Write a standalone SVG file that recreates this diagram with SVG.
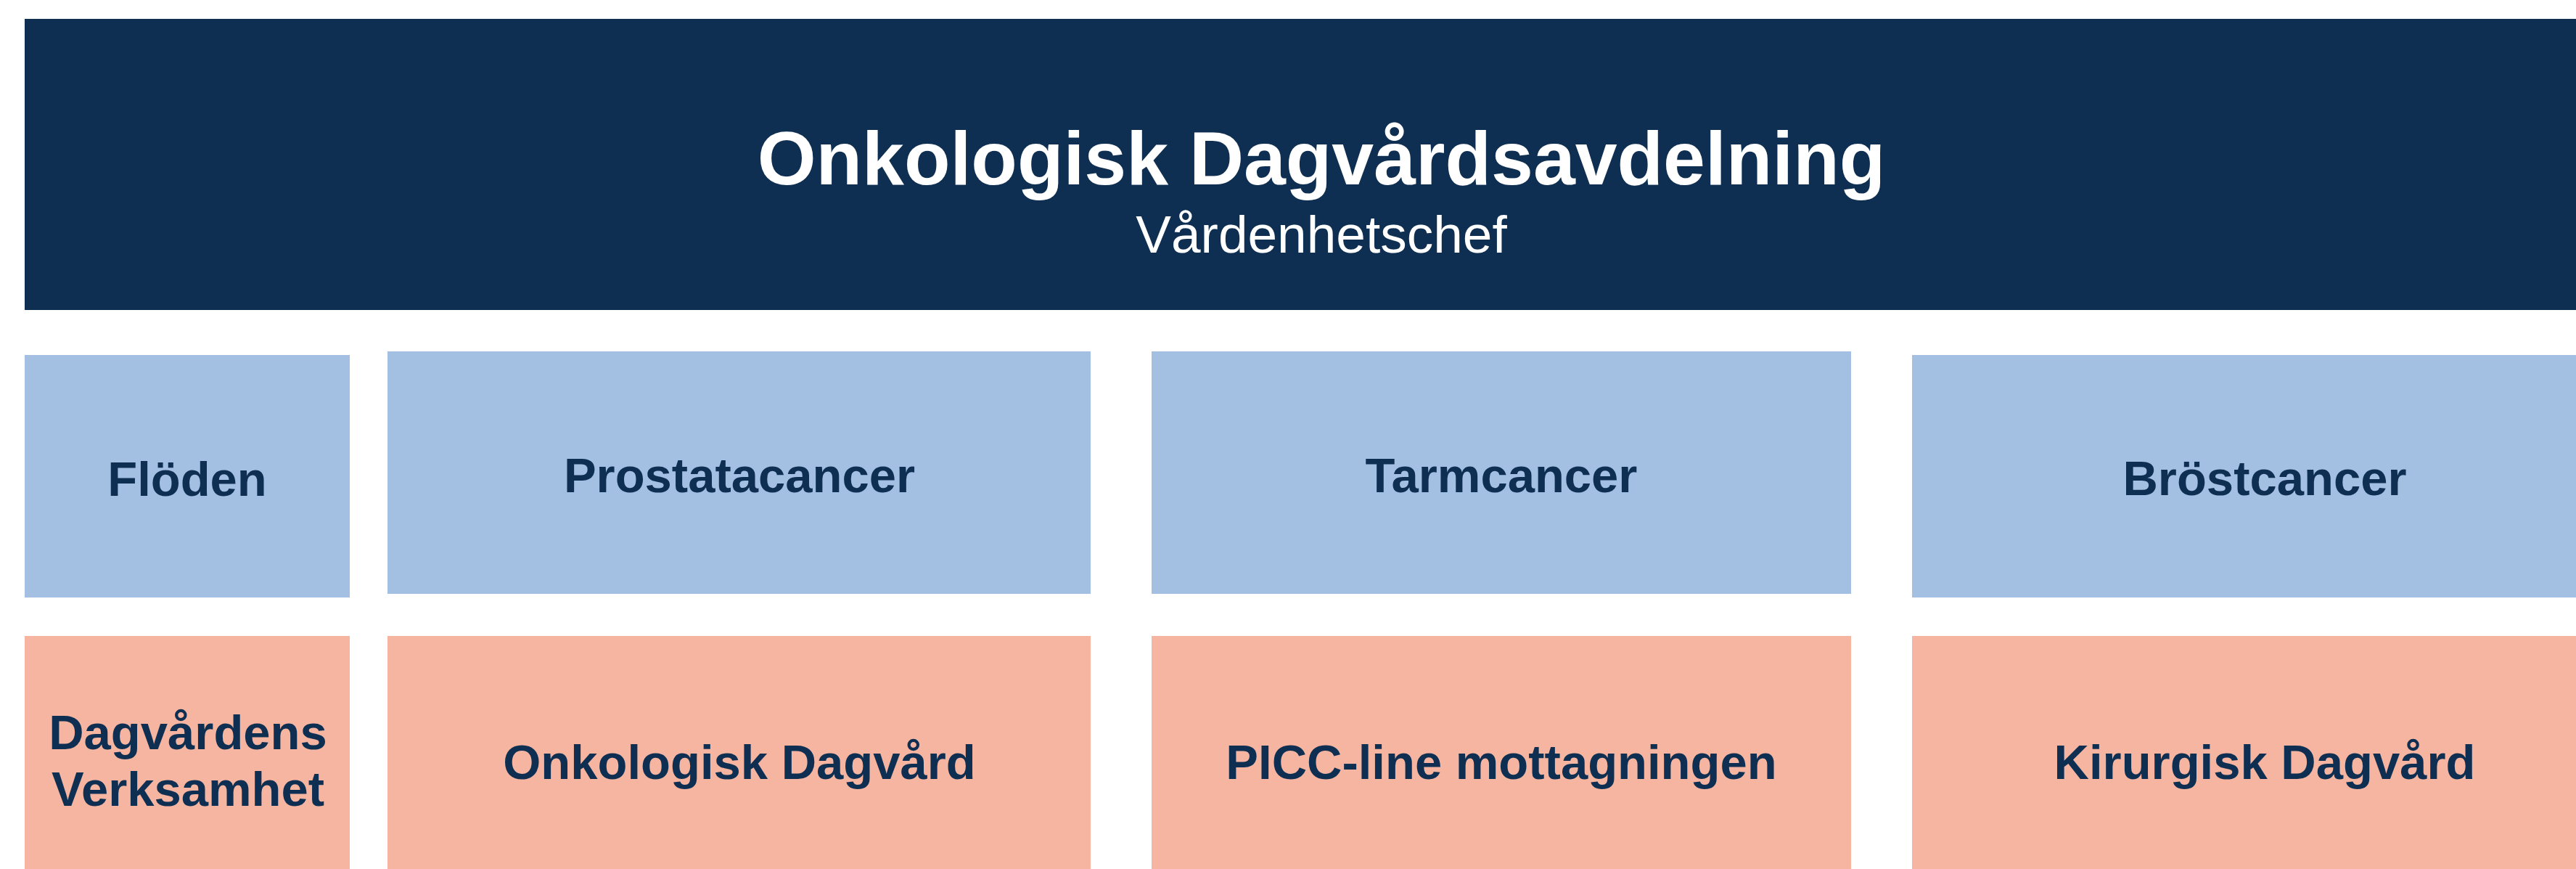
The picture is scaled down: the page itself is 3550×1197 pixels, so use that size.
<svg xmlns="http://www.w3.org/2000/svg" width="3550" height="1197" viewBox="0 0 3550 1197">
<style>
.bg{fill:#ffffff}
.head{fill:#0F2F52}
.blue{fill:#A3BFE2}
.sal{fill:#F5B5A0}
.t{font-family:"Liberation Sans",Arial,sans-serif;font-weight:bold;font-size:67px;fill:#0F2F52;text-anchor:middle}
.title{font-family:"Liberation Sans",Arial,sans-serif;font-weight:bold;font-size:104px;fill:#ffffff;text-anchor:middle}
.sub{font-family:"Liberation Sans",Arial,sans-serif;font-size:73px;fill:#ffffff;text-anchor:middle}
</style>
<rect class="bg" x="0" y="0" width="3550" height="1197"/>
<g id="header">
<rect class="head" x="34" y="26" width="3574" height="401"/>
<text class="title" x="1821" y="254">Onkologisk Dagvårdsavdelning</text>
<text class="sub" x="1821" y="348">Vårdenhetschef</text>
</g>
<g id="floden">
<rect class="blue" x="34" y="489" width="448" height="334"/>
<text class="t" x="258" y="683">Flöden</text>
</g>
<g id="prostatacancer">
<rect class="blue" x="534" y="484" width="969" height="334"/>
<text class="t" x="1019" y="678">Prostatacancer</text>
</g>
<g id="tarmcancer">
<rect class="blue" x="1587" y="484" width="964" height="334"/>
<text class="t" x="2069" y="678">Tarmcancer</text>
</g>
<g id="brostcancer">
<rect class="blue" x="2635" y="489" width="973" height="334"/>
<text class="t" x="3121" y="682">Bröstcancer</text>
</g>
<g id="dagvardens-verksamhet">
<rect class="sal" x="34" y="876" width="448" height="350"/>
<text class="t" x="259" y="1032">Dagvårdens</text>
<text class="t" x="259" y="1110">Verksamhet</text>
</g>
<g id="onkologisk-dagvard">
<rect class="sal" x="534" y="876" width="969" height="350"/>
<text class="t" x="1019" y="1073">Onkologisk Dagvård</text>
</g>
<g id="picc-line">
<rect class="sal" x="1587" y="876" width="964" height="350"/>
<text class="t" x="2069" y="1073">PICC-line mottagningen</text>
</g>
<g id="kirurgisk-dagvard">
<rect class="sal" x="2635" y="876" width="973" height="350"/>
<text class="t" x="3121" y="1073">Kirurgisk Dagvård</text>
</g>
<g id="connectors"></g>
</svg>
